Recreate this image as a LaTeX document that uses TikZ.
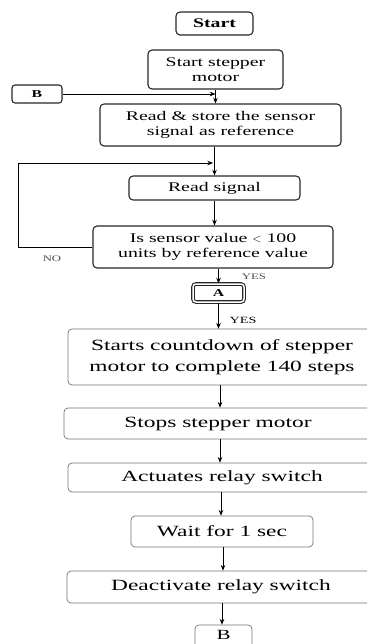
\documentclass[tikz,border=0pt]{standalone}
\usepackage{fontspec}
\setmainfont{Liberation Serif}[FakeStretch=1.5]
\usepackage{tikz}
\usetikzlibrary{arrows.meta,positioning,calc}
\tikzset{
  top/.style ={rectangle,rounded corners=4pt,draw=black!85,line width=1.1pt,align=center,inner sep=1pt,font=\fontsize{13.2}{15.5}\selectfont},
  low/.style ={rectangle,rounded corners=4pt,draw=black!55,line width=0.7pt,align=center,inner sep=1pt,font=\fontsize{15.6}{20.5}\selectfont},
  con/.style ={rectangle,rounded corners=3pt,draw=black!85,line width=1.1pt,inner sep=0pt,font=\bfseries\fontsize{10.5}{13}\selectfont},
  lab/.style ={font=\fontsize{8.5}{10}\selectfont,text=black!70},
  ar/.style={-{Stealth[length=2mm,width=1.6mm]},line width=0.8pt},
}
\begin{document}
\begin{tikzpicture}[x=1pt,y=-1pt]
  \clip (0,0) rectangle (367,644);
  % upper part
  \node[top,minimum width=77pt,minimum height=23pt] (start) at (214.5,23.5){\bfseries Start};
  \node[top,minimum width=135pt,minimum height=39pt] (motor) at (215.5,69.5){Start stepper\\motor};
  \node[con,minimum width=50pt,minimum height=18pt] (bin) at (37,94){B};
  \node[top,minimum width=241pt,minimum height=42pt] (store) at (220.5,125){Read \& store the sensor\\signal as reference};
  \node[top,minimum width=171pt,minimum height=24pt] (read) at (214.5,188){Read signal};
  \node[top,minimum width=240pt,minimum height=42pt] (decide) at (213,247){Is sensor value $<$ 100\\units by reference value};
  \node[con,minimum width=51pt,minimum height=18pt,double=white,double distance=1.5pt] (a) at (218.5,293){A};
  % lower part
  \node[low,minimum width=308pt,minimum height=56pt] (count) at (222,357){Starts countdown of stepper\\motor to complete 140 steps};
  \node[low,minimum width=308pt,minimum height=31pt] (stop) at (218,423.5){Stops stepper motor};
  \node[low,minimum width=308pt,minimum height=29pt] (act) at (222,477.5){Actuates relay switch};
  \node[low,minimum width=182pt,minimum height=31pt] (wait) at (222,531.5){Wait for 1 sec};
  \node[low,minimum width=308pt,minimum height=32pt] (deact) at (221,587){Deactivate relay switch};
  \node[low,minimum width=57pt,minimum height=26pt,text depth=6pt,font=\fontsize{14}{16}\selectfont] (bout) at (223.5,638){B};
  \coordinate (join) at (213,163);
  \coordinate (nocorner) at (18,247);
  % connectors
  \draw[ar] (motor) -- (motor |- store.north);
  \draw[ar] (bin) -- (bin -| motor.south);
  \draw[ar] (store.south -| read.north) -- (read.north);
  \draw[ar] (decide.west) -- (nocorner) |- (join);
  \draw[ar] (read) -- (read |- decide.north);
  \draw[ar] (decide.south -| a.north) -- (a.north);
  \draw[ar] (a) -- (a |- count.north);
  \draw[ar] (count.south -| 220,0) -- (stop.north -| 220,0);
  \draw[ar] (stop.south -| 220,0) -- (act.north -| 220,0);
  \draw[ar] (act.south -| 221,0) -- (wait.north -| 221,0);
  \draw[ar] (wait.south -| 223,0) -- (deact.north -| 223,0);
  \draw[ar] (deact.south -| 222,0) -- (bout.north -| 222,0);
  \node[lab] (no) at (52,259){NO};
  \node[lab] (yes1) at (254,277){YES};
  \node[lab,text=black,font=\fontsize{9.5}{11}\selectfont] (yes2) at (243,320){YES};
\end{tikzpicture}
\end{document}
